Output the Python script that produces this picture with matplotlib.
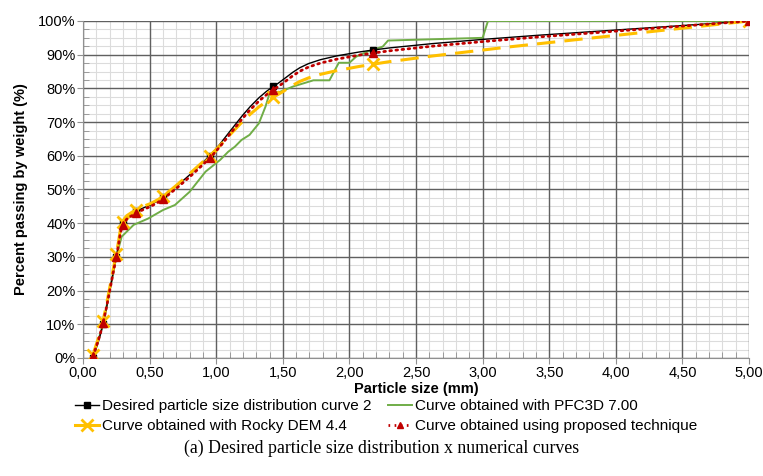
import numpy as np
import matplotlib.pyplot as plt
from matplotlib.path import Path
from matplotlib.patches import PathPatch
from matplotlib.ticker import MultipleLocator, FuncFormatter
from matplotlib.lines import Line2D

plt.rcParams['font.family'] = ['Liberation Sans', 'DejaVu Sans']

# Datos
tamanos = [0.075, 0.15, 0.25, 0.30, 0.40, 0.60, 0.95, 1.43, 2.18, 5.00]
deseada = [0.0, 10.0, 30.0, 40.0, 43.5, 47.7, 60.0, 80.6, 91.4, 100.0]
propuesta = [0.5, 10.3, 30.0, 39.5, 43.0, 47.2, 59.3, 79.6, 90.5, 100.0]
rocky = [1.0, 11.0, 31.0, 40.5, 44.0, 48.0, 60.0, 77.4, 87.2, 100.0]

pfc_x = [0.075, 0.15, 0.25, 0.29, 0.38, 0.49, 0.60, 0.69, 0.80, 0.87, 0.92, 1.03,
         1.09, 1.14, 1.19, 1.25, 1.32, 1.37, 1.40, 1.48, 1.58, 1.73, 1.85, 1.92,
         2.00, 2.05, 2.14, 2.25, 2.29, 3.00, 3.04, 5.00]
pfc_y = [0.0, 10.0, 30.0, 36.0, 39.5, 41.4, 43.9, 45.4, 49.3, 52.8, 55.3, 58.8,
         61.2, 62.7, 64.7, 66.2, 69.6, 74.6, 78.5, 79.0, 80.6, 82.4, 82.4, 87.6,
         87.6, 89.4, 91.0, 92.4, 94.2, 95.0, 100.0, 100.0]

etiquetas = ['Desired particle size distribution curve 2',
             'Curve obtained with PFC3D 7.00',
             'Curve obtained with Rocky DEM 4.4',
             'Curve obtained using proposed technique']

verde = '#70AD47'
amarillo = '#FFC000'
rojo = '#C00000'


def camino_suave(x, y):
    # linea suavizada tipo Excel (bezier entre los puntos)
    p = np.column_stack([x, y])
    n = len(p)
    verts = [p[0]]
    codes = [Path.MOVETO]
    for i in range(n - 1):
        a = p[i - 1] if i > 0 else p[i]
        b = p[i + 2] if i + 2 < n else p[i + 1]
        c1 = p[i] + (p[i + 1] - a) / 6
        c2 = p[i + 1] - (b - p[i]) / 6
        verts += [c1, c2, p[i + 1]]
        codes += [Path.CURVE4] * 3
    return Path(verts, codes)


fig = plt.figure(figsize=(7.63, 4.76), dpi=100)
ax = fig.add_axes([0.1088, 0.2479, 0.8729, 0.708])

# Rejilla secundaria debajo de la principal
for v in np.arange(0.1, 5.0, 0.1):
    ax.axvline(v, color='#dcdcdc', lw=0.8, zorder=0.2)
for v in np.arange(2.5, 100, 2.5):
    ax.axhline(v, color='#dcdcdc', lw=0.8, zorder=0.2)

# Grafica de los datos
ax.plot(pfc_x, pfc_y, color=verde, lw=1.4, zorder=3)

ax.add_patch(PathPatch(camino_suave(tamanos, deseada), fill=False, ec='black', lw=1.0, zorder=4))
ax.plot(tamanos, deseada, 's', color='black', ms=5, zorder=4)

ax.add_patch(PathPatch(camino_suave(tamanos, rocky), fill=False, ec=amarillo, lw=2.2,
                       ls=(0, (6, 3)), zorder=5))
ax.plot(tamanos, rocky, 'x', color=amarillo, ms=8, mew=2, zorder=5)

ax.add_patch(PathPatch(camino_suave(tamanos, propuesta), fill=False, ec=rojo, lw=2.0,
                       ls=(0, (0.6, 1.6)), capstyle='round', zorder=6))
ax.plot(tamanos, propuesta, '^', color=rojo, ms=6, zorder=6)

ax.set_xlim(0, 5)
ax.set_ylim(0, 100)
ax.xaxis.set_major_locator(MultipleLocator(0.5))
ax.xaxis.set_minor_locator(MultipleLocator(0.1))
ax.yaxis.set_major_locator(MultipleLocator(10))
ax.yaxis.set_minor_locator(MultipleLocator(2.5))
ax.xaxis.set_major_formatter(FuncFormatter(lambda v, p: f'{v:.2f}'.replace('.', ',')))
ax.yaxis.set_major_formatter(FuncFormatter(lambda v, p: f'{v:.0f}%'))

ax.grid(which='major', color='#606060', lw=1.0)
ax.set_axisbelow(True)
for s in ['top', 'right']:
    ax.spines[s].set_visible(False)
for s in ['left', 'bottom']:
    ax.spines[s].set_color('#909090')
ax.tick_params(which='major', direction='out', length=4, color='#909090',
               labelsize=10.5, labelcolor='black', pad=1.5)
ax.tick_params(which='minor', direction='in', length=4, color='#909090')

ax.set_xlabel('Particle size (mm)', fontsize=10.5, fontweight='bold', labelpad=2)
ax.set_ylabel('Percent passing by weight (%)', fontsize=10.5, fontweight='bold', labelpad=7)

h = [Line2D([], [], color='black', marker='s', ms=5, lw=1),
     Line2D([], [], color=amarillo, marker='x', ms=8, mew=2, lw=2.2),
     Line2D([], [], color=verde, lw=1.4),
     Line2D([], [], color=rojo, marker='^', ms=5, lw=2, ls=(0, (0.6, 1.6)))]
fig.legend(h, [etiquetas[0], etiquetas[2], etiquetas[1], etiquetas[3]], ncol=2,
           loc='center', bbox_to_anchor=(0.506, 0.126), frameon=False,
           prop={'size': 11}, handlelength=1.6, handletextpad=0.2,
           columnspacing=1.05, labelspacing=0.4)

fig.text(0.5, 0.058, '(a) Desired particle size distribution x numerical curves',
         ha='center', va='center', family='Liberation Serif', fontsize=12.8)

plt.savefig('out.png', dpi=100)
